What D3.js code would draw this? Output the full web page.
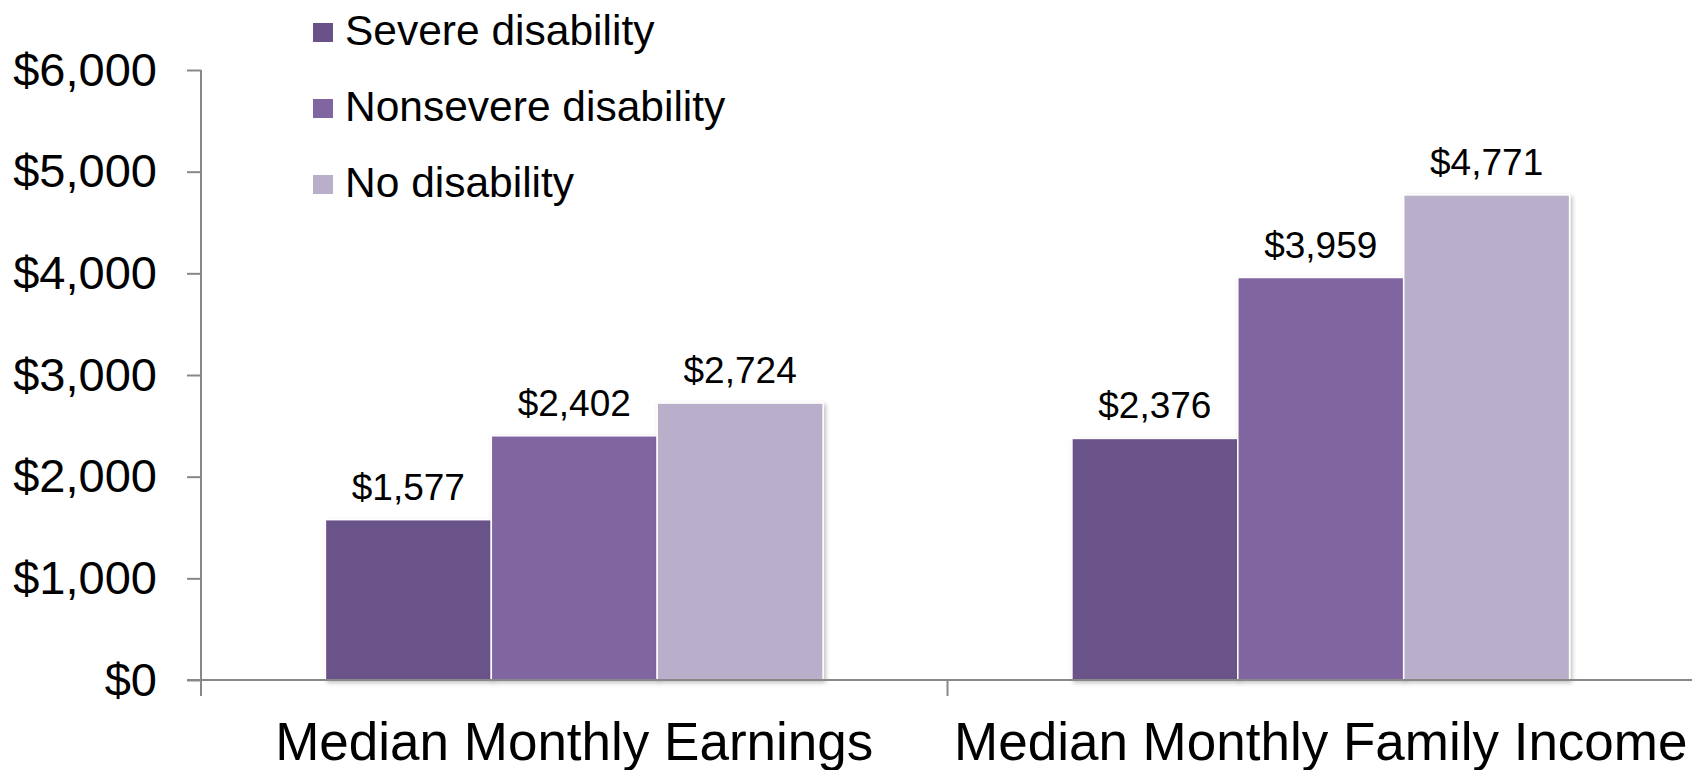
<!DOCTYPE html>
<html>
<meta charset="utf-8">
<head>
<script src="https://d3js.org/d3.v7.min.js"></script>
<style>
  body { margin: 0; background: #fff; }
  svg { display: block; font-family: "Liberation Sans", Arial, sans-serif; }
</style>
</head>
<body>
<div id="chart"></div>
<script>
// data
var categories = ["Median Monthly Earnings", "Median Monthly Family Income"];
var seriesNames = ["Severe disability", "Nonsevere disability", "No disability"];
var severe = [1577, 2376];
var nonsevere = [2402, 3959];
var noDisability = [2724, 4771];
var yTicks = [0, 1000, 2000, 3000, 4000, 5000, 6000];
var colors = ["#6a5288", "#8165a1", "#baafca"];

var width = 1692, height = 770;
var margin = {top: 70, right: -2, bottom: 90, left: 201};

var svg = d3.select("#chart").append("svg")
    .attr("width", width)
    .attr("height", height);

// soft shadow like the original
var defs = svg.append("defs");
var f = defs.append("filter").attr("id", "shadow")
    .attr("x", "-10%").attr("y", "-10%").attr("width", "130%").attr("height", "130%");
f.append("feDropShadow").attr("dx", 2).attr("dy", 2).attr("stdDeviation", 2)
    .attr("flood-color", "#000").attr("flood-opacity", 0.25);

var y = d3.scaleLinear().domain([0, 6000])
    .range([height - margin.bottom, margin.top]);

var x0 = d3.scaleBand().domain(categories)
    .range([margin.left, width - margin.right])
    .paddingInner(0).paddingOuter(0);

var bw = x0.bandwidth();
var x1 = d3.scaleBand().domain(seriesNames)
    .range([bw / 6, bw * 5 / 6]).padding(0);

var color = d3.scaleOrdinal().domain(seriesNames).range(colors);

// rows for grouped bars
var values = [severe, nonsevere, noDisability];
var rows = categories.map(function(c, i) {
  return seriesNames.map(function(s, j) {
    return {cat: c, series: s, value: values[j][i]};
  });
});

// y axis
var yAxis = svg.append("g")
    .attr("transform", "translate(" + margin.left + ",0)")
    .call(d3.axisLeft(y).tickValues(yTicks).tickSize(14).tickSizeOuter(0).tickPadding(30)
      .tickFormat(function(d) { return "$" + d3.format(",")(d); }));
yAxis.select(".domain").attr("stroke", "#888").attr("stroke-width", 2)
    .attr("d", "M0," + y(6000) + "V" + (y(0) + 16));
yAxis.selectAll(".tick line").attr("stroke", "#888").attr("stroke-width", 2);
yAxis.selectAll(".tick text").attr("font-size", 47).attr("fill", "#000")
    .attr("font-family", "'Liberation Sans', Arial, sans-serif");

// bars
var groups = svg.selectAll(".grp").data(rows).enter().append("g")
    .attr("class", "grp")
    .attr("transform", function(d) { return "translate(" + x0(d[0].cat) + ",0)"; });

groups.selectAll("rect").data(function(d) { return d; }).enter().append("rect")
    .attr("x", function(d) { return x1(d.series); })
    .attr("y", function(d) { return y(d.value); })
    .attr("width", x1.bandwidth())
    .attr("height", function(d) { return y(0) - y(d.value); })
    .attr("fill", function(d) { return color(d.series); })
    .attr("stroke", "#fff")
    .attr("stroke-width", 1.5)
    .attr("filter", "url(#shadow)");

groups.selectAll("text.val").data(function(d) { return d; }).enter().append("text")
    .attr("class", "val")
    .attr("x", function(d) { return x1(d.series) + x1.bandwidth() / 2; })
    .attr("y", function(d) { return y(d.value) - 20; })
    .attr("text-anchor", "middle")
    .attr("font-size", 37)
    .text(function(d) { return "$" + d3.format(",")(d.value); });

// x axis line and category boundary ticks
svg.append("line")
    .attr("x1", margin.left - 14).attr("x2", width)
    .attr("y1", y(0)).attr("y2", y(0))
    .attr("stroke", "#888").attr("stroke-width", 2);

svg.selectAll(".sep").data(categories.slice(1)).enter().append("line")
    .attr("class", "sep")
    .attr("x1", function(d) { return x0(d); }).attr("x2", function(d) { return x0(d); })
    .attr("y1", y(0)).attr("y2", y(0) + 16)
    .attr("stroke", "#888").attr("stroke-width", 2);

svg.selectAll(".cat").data(categories).enter().append("text")
    .attr("class", "cat")
    .attr("x", function(d) { return x0(d) + bw / 2; })
    .attr("y", 760)
    .attr("text-anchor", "middle")
    .attr("font-size", 53)
    .text(function(d) { return d; });

// legend
var legend = svg.selectAll(".leg").data(seriesNames).enter().append("g")
    .attr("class", "leg")
    .attr("transform", function(d, i) { return "translate(313," + (23 + i * 76) + ")"; });

legend.append("rect")
    .attr("width", 20).attr("height", 19)
    .attr("fill", function(d) { return color(d); });

legend.append("text")
    .attr("x", 32).attr("y", 22)
    .attr("font-size", 42.5)
    .text(function(d) { return d; });
</script>
</body>
</html>
